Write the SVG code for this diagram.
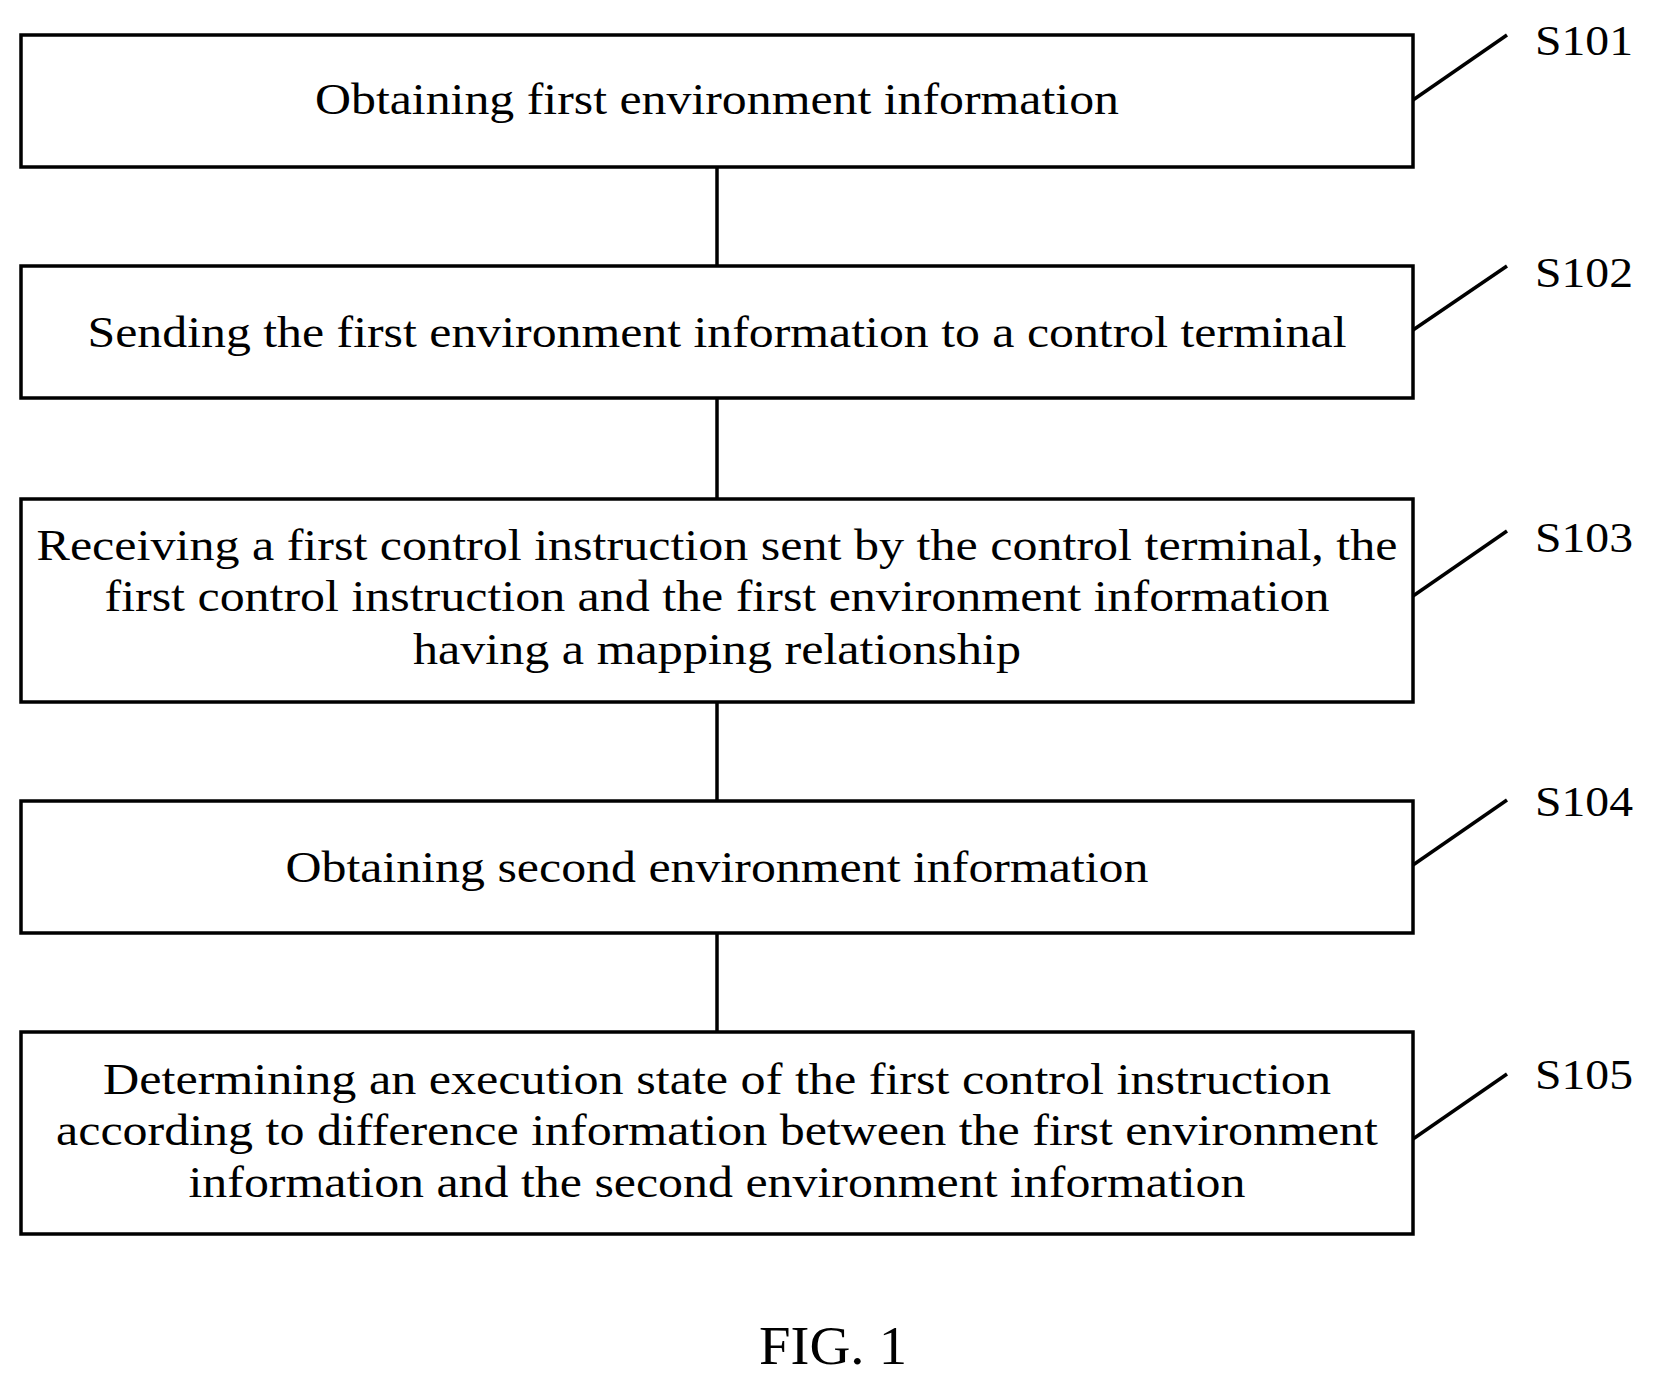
<svg xmlns="http://www.w3.org/2000/svg" width="1654" height="1387" viewBox="0 0 1654 1387">
<style>
.b{fill:#fff;stroke:#000;stroke-width:3.5}
.t{font-family:"Liberation Serif",serif;font-size:45px;text-anchor:middle;fill:#000}
.s{font-family:"Liberation Serif",serif;font-size:43px;fill:#000}
.l{stroke:#000;stroke-width:3.5;fill:none}
</style>
<rect width="1654" height="1387" fill="#fff"/>
<g id="connectors">
<line class="l" x1="717" y1="167" x2="717" y2="266"/>
<line class="l" x1="717" y1="398" x2="717" y2="499"/>
<line class="l" x1="717" y1="702" x2="717" y2="801"/>
<line class="l" x1="717" y1="933" x2="717" y2="1032"/>
<line class="l" x1="1413" y1="100" x2="1507" y2="35"/>
<line class="l" x1="1413" y1="330" x2="1507" y2="266"/>
<line class="l" x1="1413" y1="596" x2="1507" y2="531"/>
<line class="l" x1="1413" y1="865" x2="1507" y2="800"/>
<line class="l" x1="1413" y1="1139" x2="1507" y2="1074"/>
</g>
<g id="n1"><rect class="b" x="21" y="35" width="1392" height="132"/><text class="t" x="717" y="114" textLength="804" lengthAdjust="spacingAndGlyphs">Obtaining first environment information</text><text class="s" x="1535" y="55" textLength="98" lengthAdjust="spacingAndGlyphs">S101</text></g>
<g id="n2"><rect class="b" x="21" y="266" width="1392" height="132"/><text class="t" x="717" y="347" textLength="1259" lengthAdjust="spacingAndGlyphs">Sending the first environment information to a control terminal</text><text class="s" x="1535" y="287" textLength="98" lengthAdjust="spacingAndGlyphs">S102</text></g>
<g id="n3"><rect class="b" x="21" y="499" width="1392" height="203"/><text class="t" x="717" y="560" textLength="1361" lengthAdjust="spacingAndGlyphs">Receiving a first control instruction sent by the control terminal, the</text><text class="t" x="717" y="611" textLength="1225" lengthAdjust="spacingAndGlyphs">first control instruction and the first environment information</text><text class="t" x="717" y="664" textLength="608" lengthAdjust="spacingAndGlyphs">having a mapping relationship</text><text class="s" x="1535" y="552" textLength="98" lengthAdjust="spacingAndGlyphs">S103</text></g>
<g id="n4"><rect class="b" x="21" y="801" width="1392" height="132"/><text class="t" x="717" y="882" textLength="863" lengthAdjust="spacingAndGlyphs">Obtaining second environment information</text><text class="s" x="1535" y="816" textLength="98" lengthAdjust="spacingAndGlyphs">S104</text></g>
<g id="n5"><rect class="b" x="21" y="1032" width="1392" height="202"/><text class="t" x="717" y="1094" textLength="1228" lengthAdjust="spacingAndGlyphs">Determining an execution state of the first control instruction</text><text class="t" x="717" y="1145" textLength="1322" lengthAdjust="spacingAndGlyphs">according to difference information between the first environment</text><text class="t" x="717" y="1197" textLength="1057" lengthAdjust="spacingAndGlyphs">information and the second environment information</text><text class="s" x="1535" y="1089" textLength="98" lengthAdjust="spacingAndGlyphs">S105</text></g>
<text x="833" y="1364" textLength="148" lengthAdjust="spacingAndGlyphs" style="font-family:'Liberation Serif',serif;font-size:54px;text-anchor:middle">FIG. 1</text>
</svg>
